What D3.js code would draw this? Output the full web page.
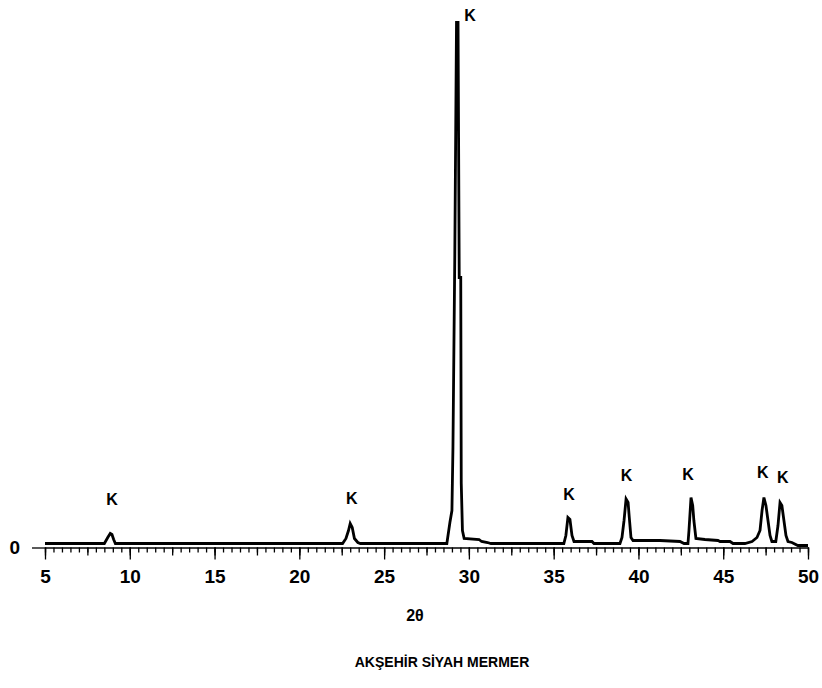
<!DOCTYPE html>
<html>
<head>
<meta charset="utf-8">
<script src="https://cdn.jsdelivr.net/npm/d3@7"></script>
<style>
  body { margin: 0; background: #fff; }
  svg { display: block; }
  .tick text { font-family: "Liberation Sans Narrow", "Arial Narrow", "Liberation Sans", sans-serif; font-weight: bold; }
</style>
</head>
<body>
<div id="chart"></div>
<script>
// 2theta (deg) and intensity (arbitrary counts)
const twoTheta = [5.0, 8.5, 8.7, 8.85, 8.95, 9.05, 9.15,
  22.55, 22.75, 22.9, 23.0, 23.12, 23.25, 23.45, 23.6,
  28.7, 28.88, 29.0, 29.06, 29.17, 29.27, 29.36, 29.43, 29.52, 29.55, 29.62, 29.72, 30.6, 30.75, 31.1, 31.3,
  35.6, 35.72, 35.84, 35.96, 36.08, 36.2, 37.26, 37.38,
  38.91, 39.03, 39.15, 39.27, 39.39, 39.45, 39.56, 39.68, 41.27, 42.45, 42.69,
  42.92, 42.98, 43.1, 43.2, 43.27, 43.39, 43.92, 44.69, 44.81, 45.4, 45.58,
  46.28, 46.7, 46.99, 47.17, 47.29, 47.4, 47.52, 47.64, 47.76, 47.87,
  48.1, 48.23, 48.35, 48.46, 48.58, 48.7, 48.82, 49.05, 49.4, 50.0]
const intensity = [40, 40, 100, 140, 130, 80, 40,
  40, 90, 170, 240, 200, 90, 50, 40,
  40, 250, 370, 1000, 2940, 5250, 5250, 2700, 2700, 640, 170, 90, 80, 60, 50, 40,
  40, 120, 300, 280, 120, 60, 60, 40,
  40, 100, 270, 485, 450, 320, 100, 70, 70, 60, 40,
  40, 170, 500, 420, 270, 90, 80, 70, 60, 60, 40,
  40, 60, 100, 170, 370, 500, 420, 270, 120, 60,
  60, 220, 450, 420, 270, 120, 60, 50, 20, 20]

// peak labels (K = kalsit) and where they sit
const peakLabels = ["K", "K", "K", "K", "K", "K", "K", "K"]
const labelTheta = [8.95, 23.1, 30.07, 35.9, 39.3, 42.92, 47.34, 48.52]
const labelLevel = [425, 435, 5265, 475, 665, 675, 695, 645]

const majorTicks = [5, 10, 15, 20, 25, 30, 35, 40, 45, 50]
const xLabel = "2θ"
const title = "AKŞEHİR SİYAH MERMER"

drawPattern("#chart")

function drawPattern(id){
    const canvas = {width: 822, height: 688}
    const svg = d3.select(id).append("svg")
      .attr("width", canvas.width).attr("height", canvas.height)

    const x = d3.scaleLinear().domain([5, 50]).range([45, 808])
    const y = d3.scaleLinear().domain([0, 5250]).range([547.5, 22.5])

    addAxes(svg, x, y)
    addPattern(svg, x, y)
    addLabels(svg, x, y)
}

function addAxes(svg, x, y){
    const base = y(0)
    const minor = d3.range(5, 50.01, 0.5)
    const medium = d3.range(5, 50.01, 2.5)

    svg.append("g").attr("transform", `translate(0,${base})`)
      .call(d3.axisBottom(x).tickValues(minor).tickSize(5).tickFormat(""))
      .call(g => g.select(".domain").remove())
    svg.append("g").attr("transform", `translate(0,${base})`)
      .call(d3.axisBottom(x).tickValues(medium).tickSize(8).tickFormat(""))
      .call(g => g.select(".domain").remove())
    svg.append("g").attr("transform", `translate(0,${base})`)
      .call(d3.axisBottom(x).tickValues(majorTicks).tickSize(12).tickSizeOuter(0).tickPadding(10))
      .call(g => g.selectAll("text").attr("font-size", 19).attr("fill", "#000"))

    svg.append("g").attr("transform", `translate(${x(5)},0)`)
      .call(d3.axisLeft(y).tickValues([0]).tickSize(13).tickPadding(12))
      .call(g => g.select(".domain").remove())
      .call(g => g.selectAll("text").attr("font-size", 19).attr("fill", "#000"))

    svg.selectAll(".tick line").attr("stroke", "#000").attr("stroke-width", 1.3)
    svg.selectAll(".domain").attr("stroke", "#000").attr("stroke-width", 1.5)
}

function addPattern(svg, x, y){
    const pts = twoTheta.map((t, i) => [t, intensity[i]])
    const line = d3.line().x(d => x(d[0])).y(d => y(d[1]))

    svg.append("path").datum(pts).attr("fill", "none").attr("stroke", "#000")
      .attr("stroke-width", 2.8).attr("stroke-linejoin", "miter").attr("d", line)
}

function addLabels(svg, x, y){
    svg.append("g").selectAll("text").data(peakLabels).join("text")
      .attr("x", (d, i) => x(labelTheta[i])).attr("y", (d, i) => y(labelLevel[i]))
      .attr("text-anchor", "middle")
      .attr("font-family", "Liberation Sans, Arial, sans-serif").attr("font-weight", "bold")
      .attr("font-size", 16).text(d => d)

    svg.append("text").attr("x", 415).attr("y", 621).attr("text-anchor", "middle")
      .attr("font-family", "Liberation Sans, Arial, sans-serif").attr("font-weight", "bold")
      .attr("font-size", 16).text(xLabel)

    svg.append("text").attr("x", 442).attr("y", 667).attr("text-anchor", "middle")
      .attr("font-family", "Liberation Sans, Arial, sans-serif").attr("font-weight", "bold")
      .attr("font-size", 14).text(title)
}
</script>
</body>
</html>
